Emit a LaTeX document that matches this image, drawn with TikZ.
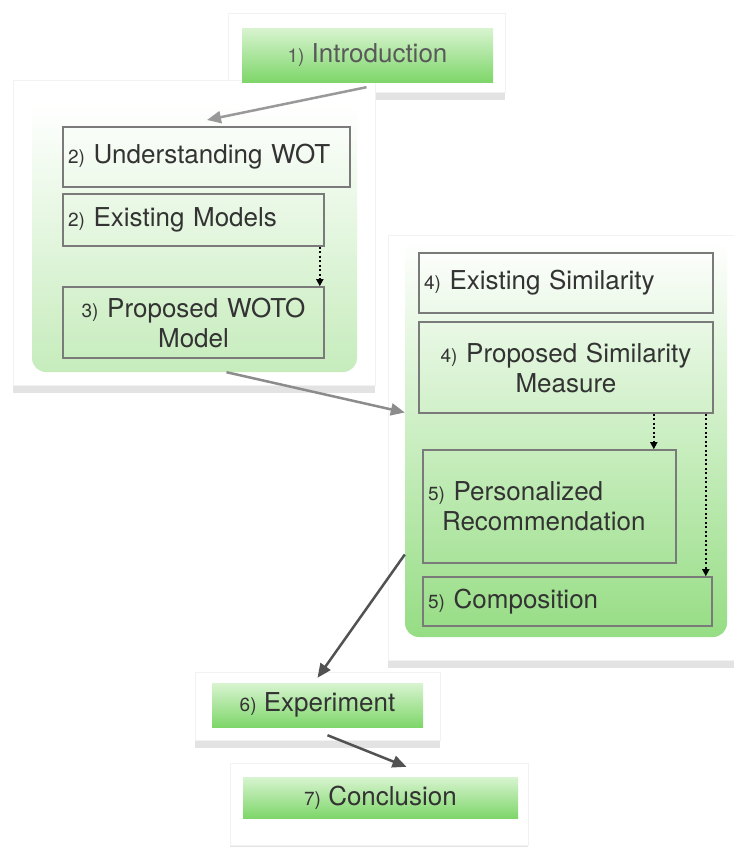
\documentclass[tikz,border=0pt]{standalone}
\usepackage{fontspec}
\setmainfont{TeX Gyre Heros}
\usepackage{tikz}
\usepackage{xcolor}
\usetikzlibrary{arrows.meta,shadows}

\definecolor{bartop}{HTML}{D8F4D0}
\definecolor{barbot}{HTML}{7ED66A}
\definecolor{grponebot}{HTML}{C6ECBC}
\definecolor{grptwobot}{HTML}{96DD84}
\definecolor{txtgray}{HTML}{333333}
\definecolor{linegray}{HTML}{7A7A7A}

\newcommand{\secno}[1]{{\fontsize{19}{22}\selectfont #1}}

\tikzset{
  card/.style={fill=white,draw=black!5,drop shadow={shadow xshift=0pt,shadow yshift=-8pt,opacity=0.22}},
  greenbar/.style={top color=bartop,bottom color=barbot,text=txtgray,font=\fontsize{26}{30}\selectfont},
  grpbg/.style={rounded corners=14pt,top color=white,bottom color=#1},
  topicbox/.style={draw=linegray,line width=1.6pt,inner xsep=5pt,text=txtgray,font=\fontsize{26}{30}\selectfont},
  flowarr/.style={>={Triangle[length=14pt,width=12pt]},->,line width=2.5pt},
  dotarr/.style={>={Triangle[length=7pt,width=7pt]},->,line width=1.6pt,dash pattern=on 2pt off 2.5pt}
}

\begin{document}
\begin{tikzpicture}[x=1pt,y=-1pt]
\useasboundingbox (0,0) rectangle (734,847);
% cards
\node[card,minimum width=277pt,minimum height=79pt] (introcard) at (366.5,52.5) {};
\node[card,minimum width=362pt,minimum height=305pt] (cardone) at (194,232.5) {};
\node[card,minimum width=346pt,minimum height=425pt] (cardtwo) at (561,447.5) {};
\node[card,minimum width=245pt,minimum height=68pt] (expcard) at (317.5,706) {};
\node[card,minimum width=298pt,minimum height=82pt] (conccard) at (379,804) {};
% green areas
\node[grpbg=grponebot,minimum width=325pt,minimum height=269pt] (grpone) at (194.5,237.5) {};
\node[grpbg=grptwobot,minimum width=322pt,minimum height=397pt] (grptwo) at (566,438.5) {};
% bars
\node[greenbar,minimum width=251pt,minimum height=54pt,text=black!65] (intro) at (367.5,55) {\secno{1)} Introduction};
\node[greenbar,minimum width=211pt,minimum height=44pt] (exper) at (317.5,705) {\secno{6)} Experiment};
\node[greenbar,minimum width=275pt,minimum height=41pt] (concl) at (380.5,797.5) {\secno{7)} Conclusion};
% boxes, left group
\node[topicbox,minimum width=287pt,minimum height=60pt,text width=277pt,align=left] (und) at (206.5,157) {\secno{2)} Understanding WOT};
\node[topicbox,minimum width=261pt,minimum height=52pt,text width=251pt,align=left] (exm) at (193.5,220) {\secno{2)} Existing Models};
\node[topicbox,minimum width=261pt,minimum height=71pt,text width=251pt,align=center] (woto) at (193.5,322.5) {\secno{3)} Proposed WOTO\\Model};
% boxes, right group
\node[topicbox,minimum width=294pt,minimum height=60pt,text width=284pt,align=left] (exsim) at (566,283) {\secno{4)} Existing Similarity};
\node[topicbox,minimum width=294pt,minimum height=91pt,text width=284pt,align=center] (propsim) at (566,367.5) {\secno{4)} Proposed Similarity\\Measure};
\node[topicbox,minimum width=253pt,minimum height=113pt,text width=243pt,align=left] (pers) at (549.5,506.5) {\secno{5)} Personalized\\\hspace*{14pt}Recommendation};
\node[topicbox,minimum width=289pt,minimum height=49pt,text width=279pt,align=left] (comp) at (567.5,601.5) {\secno{5)} Composition};
% connectors
\coordinate (inone) at (207,120);
\draw[flowarr,draw=black!40] ([yshift=5pt]introcard.south) -- (inone);
\draw[flowarr,draw=black!45] ([xshift=32pt]grpone.south) -- ([yshift=26pt]grptwo.west);
\draw[flowarr,draw=black!68] ([yshift=-116pt]grptwo.west) -- ([yshift=5pt]exper.north);
\draw[flowarr,draw=black!68] ([xshift=10pt,yshift=-8pt]exper.south) -- ([xshift=26pt,yshift=10pt]concl.north);
\coordinate (dmodel) at ([xshift=-5pt]woto.north east);
\coordinate (dpers) at ([xshift=-23pt]pers.north east);
\coordinate (dcomp) at ([xshift=-7pt]comp.north east);
\draw[dotarr] (dmodel |- exm.south) -- (dmodel);
\draw[dotarr] (dpers |- propsim.south) -- (dpers);
\draw[dotarr] (dcomp |- propsim.south) -- (dcomp);
\end{tikzpicture}
\end{document}
